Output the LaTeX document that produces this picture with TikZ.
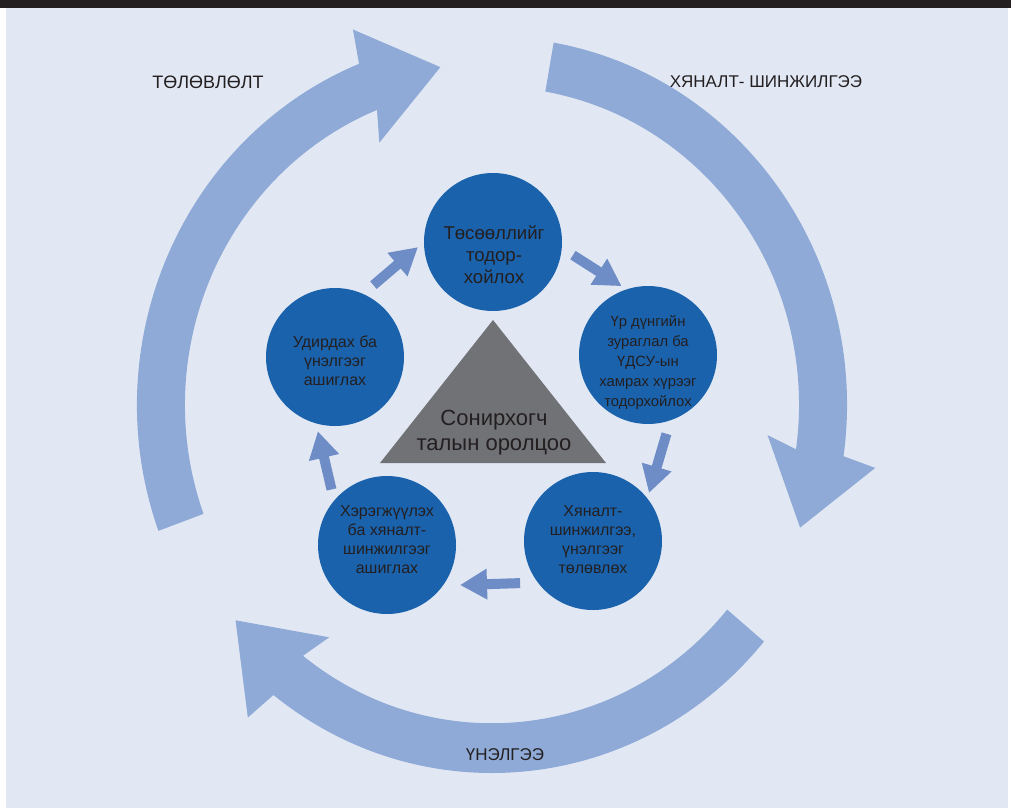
\documentclass[tikz,border=0pt]{standalone}
\usepackage{fontspec}
\setmainfont{Liberation Sans}
\usetikzlibrary{arrows.meta}
\definecolor{cBg}{HTML}{E1E8F4}
\definecolor{cBar}{HTML}{231F20}
\definecolor{cBig}{HTML}{8FAAD6}
\definecolor{cCirc}{HTML}{1A62AC}
\definecolor{cSmall}{HTML}{6E8CC6}
\definecolor{cTri}{HTML}{717276}
\definecolor{cText}{HTML}{231F20}
\newcommand\ringarrow[1]{%
  \fill[cBig] (#1:355) arc[start angle=#1, end angle={#1+88}, radius=355]
    -- ({#1+89}:388) -- ({#1+101}:330) -- ({#1+86}:277) -- ({#1+88}:307)
    arc[start angle={#1+88}, end angle=#1, radius=307] -- cycle;}
\begin{document}
\begin{tikzpicture}[x=1pt,y=-1pt,
  circ/.style={circle, fill=cCirc, minimum size=138pt, inner sep=0pt, outer sep=0pt},
  ctext/.style={text=cText, align=center, font=\fontsize{16}{19}\selectfont},
  sarrow/.style={draw=cSmall, line width=10pt, -{Triangle[length=27pt,width=29pt]}},
  lbl/.style={text=cText, font=\fontsize{17}{20}\selectfont, inner sep=0pt}]
\useasboundingbox (0,0) rectangle (1011,808);
\fill[white] (0,0) rectangle (1011,808);
\fill[cBg] (6,8) rectangle (1008,808);
\fill[cBar] (0,0) rectangle (1011,8);
% big circular arrows
\begin{scope}[shift={(492,405)}, yscale=1.0366]
  \ringarrow{160}
  \ringarrow{280}
  \ringarrow{40}
\end{scope}
% labels
\node[lbl, font=\fontsize{18}{21}\selectfont] (lplan) at (208,82) {ТӨЛӨВЛӨЛТ};
\node[lbl] (lmon) at (766,82) {ХЯНАЛТ- ШИНЖИЛГЭЭ};
\node[lbl] (leval) at (505,755) {ҮНЭЛГЭЭ};
% circles
\node[circ] (c1) at (493,242) {};
\node[circ] (c2) at (648,355) {};
\node[circ] (c3) at (593,541) {};
\node[circ] (c4) at (387,545) {};
\node[circ] (c5) at (335,357) {};
\node[ctext, font=\fontsize{18.6}{22}\selectfont] (t1) at (494,255) {Төсөөллийг\\тодор-\\хойлох};
\node[ctext, font=\fontsize{14.8}{20}\selectfont] (t2) at (648,363) {Үр дүнгийн\\зураглал ба\\ҮДСУ-ын\\хамрах хүрээг\\тодорхойлох};
\node[ctext] (t3) at (593,540) {Хяналт-\\шинжилгээ,\\үнэлгээг\\төлөвлөх};
\node[ctext] (t4) at (387,540) {Хэрэгжүүлэх\\ба хяналт-\\шинжилгээг\\ашиглах};
\node[ctext] (t5) at (335,361) {Удирдах ба\\үнэлгээг\\ашиглах};
% triangle
\fill[cTri] (493,320) -- (606,463) -- (380,463) -- cycle;
\node[ctext, font=\fontsize{22}{25}\selectfont] (tri) at (494,433) {Сонирхогч\\талын оролцоо};
% small arrows
\draw[sarrow, shorten <=13.6pt, shorten >=7.9pt] (c5.66) -- (c1.180);
\draw[sarrow, shorten <=13.3pt, shorten >=6pt] (c1.-5) -- (c2.108);
\draw[sarrow, shorten <=14.1pt, shorten >=5.8pt] (c2.-71.5) -- (c3.38);
\draw[sarrow, shorten <=17.8pt, shorten >=17.2pt] (c3.217) -- (c4.-36);
\draw[sarrow, shorten <=11.5pt, shorten >=8.1pt] (c4.140.6) -- (c5.-106.8);
\end{tikzpicture}
\end{document}
